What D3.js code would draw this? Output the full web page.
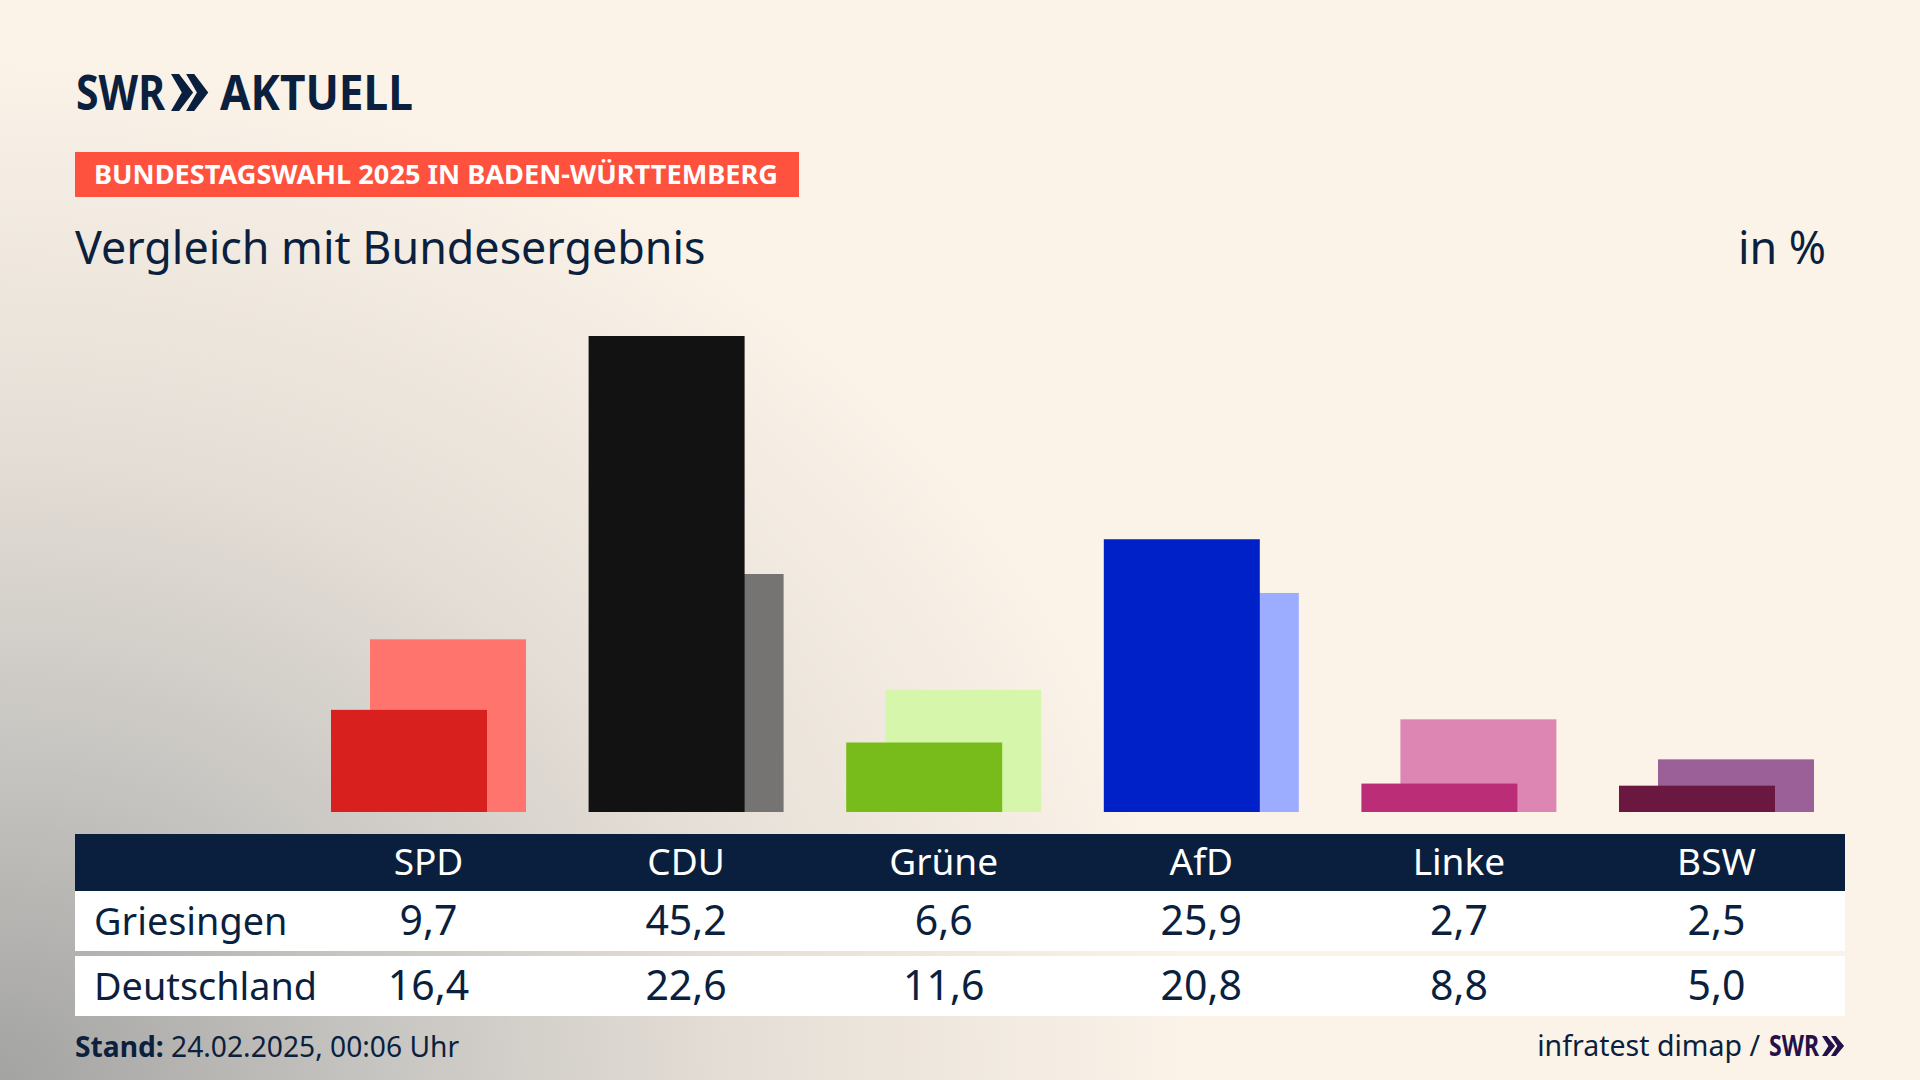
<!DOCTYPE html>
<html>
  <head>
    <meta charset="utf-8">
    <script src="https://d3js.org/d3.v7.min.js"></script>
    <style>
      html, body { margin: 0; padding: 0; background: #fbf3e8; }
      svg { display: block; }
      text { font-family: "Noto Sans", sans-serif; fill: #0b1f3e; }
    </style>
  </head>
  <body>
    <svg id="viz" width="1920" height="1080"></svg>
    <script>
    const parties = ["SPD", "CDU", "Grüne", "AfD", "Linke", "BSW"];
    const griesingen = [9.7, 45.2, 6.6, 25.9, 2.7, 2.5];
    const deutschland = [16.4, 22.6, 11.6, 20.8, 8.8, 5.0];
    const rowNames = ["Griesingen", "Deutschland"];
    const darkColors = ["#d8201f", "#121212", "#78bc1b", "#0021c8", "#bb2e77", "#6b1840"];
    const lightColors = ["#ff756e", "#757473", "#d6f7ab", "#9cadff", "#dd86b4", "#9b6097"];

    const navy = "#0a1f3d";
    const barWidth = 156;
    const base = 812;

    var svg = d3.select("#viz");

    // background, grey glow from the lower left corner
    var defs = svg.append("defs");
    var glow = defs.append("radialGradient")
        .attr("id", "glow")
        .attr("gradientUnits", "userSpaceOnUse")
        .attr("cx", 0).attr("cy", 0).attr("r", 1)
        .attr("gradientTransform", "translate(0,1080) scale(1300,1120)");
    glow.append("stop").attr("offset", 0).attr("stop-color", "#a3a3a2");
    glow.append("stop").attr("offset", 0.3).attr("stop-color", "#c8c6c2");
    glow.append("stop").attr("offset", 0.58).attr("stop-color", "#e6dfd7");
    glow.append("stop").attr("offset", 0.92).attr("stop-color", "#fbf3e8");

    svg.append("rect")
        .attr("width", 1920).attr("height", 1080)
        .attr("fill", "url(#glow)");

    // scales
    var x = d3.scaleBand()
        .domain(parties)
        .range([331, 1814])
        .paddingInner(0.243)
        .paddingOuter(0);

    var y = d3.scaleLinear()
        .domain([0, 45.2])
        .range([base, 336]);

    var color = d3.scaleOrdinal().domain(parties);
    var center = function(p) { return x(p) + x.bandwidth() / 2; };
    var comma = d3.formatLocale({ decimal: ",", thousands: ".", grouping: [3], currency: ["", "€"] }).format(".1f");

    // header
    function chevrons(g, cx, top, h, w, fill) {
        [0, 1].forEach(function(i) {
            var l = cx + i * w * 0.56;
            g.append("path")
                .attr("d", "M" + l + "," + top + "h" + (w * 0.3) + "l" + (w * 0.52) + "," + (h / 2) +
                    "l" + (-w * 0.52) + "," + (h / 2) + "h" + (-w * 0.3) + "l" + (w * 0.4) + "," + (-h / 2) + "z")
                .attr("fill", fill);
        });
    }

    svg.append("text")
        .attr("x", 76).attr("y", 110)
        .attr("font-size", 48).attr("font-weight", 700)
        .attr("textLength", 89).attr("lengthAdjust", "spacingAndGlyphs")
        .text("SWR");
    chevrons(svg, 171, 74, 37, 27, navy);
    svg.append("text")
        .attr("x", 220).attr("y", 110)
        .attr("font-size", 48).attr("font-weight", 700)
        .attr("textLength", 193).attr("lengthAdjust", "spacingAndGlyphs")
        .text("AKTUELL");

    svg.append("rect")
        .attr("x", 75).attr("y", 152)
        .attr("width", 724).attr("height", 45)
        .attr("fill", "#ff523e");
    svg.append("text")
        .attr("x", 94).attr("y", 184)
        .attr("font-size", 27).attr("font-weight", 700)
        .attr("textLength", 684).attr("lengthAdjust", "spacingAndGlyphs")
        .style("fill", "#ffffff")
        .text("BUNDESTAGSWAHL 2025 IN BADEN-WÜRTTEMBERG");

    svg.append("text")
        .attr("x", 75).attr("y", 264)
        .attr("font-size", 44.8)
        .text("Vergleich mit Bundesergebnis");
    svg.append("text")
        .attr("x", 1826).attr("y", 264)
        .attr("text-anchor", "end")
        .attr("font-size", 44.8)
        .text("in %");

    // bars, Deutschland behind and shifted right
    color.range(lightColors);
    svg.append("g").selectAll("rect")
        .data(parties)
        .join("rect")
        .attr("x", function(d) { return x(d) + x.bandwidth() - barWidth; })
        .attr("y", function(d, i) { return y(deutschland[i]); })
        .attr("width", barWidth)
        .attr("height", function(d, i) { return base - y(deutschland[i]); })
        .attr("fill", function(d) { return color(d); });

    color.range(darkColors);
    svg.append("g").selectAll("rect")
        .data(parties)
        .join("rect")
        .attr("x", function(d) { return x(d); })
        .attr("y", function(d, i) { return y(griesingen[i]); })
        .attr("width", barWidth)
        .attr("height", function(d, i) { return base - y(griesingen[i]); })
        .attr("fill", function(d) { return color(d); });

    // table
    svg.append("rect")
        .attr("x", 75).attr("y", 834)
        .attr("width", 1770).attr("height", 57)
        .attr("fill", navy);

    svg.append("g").selectAll("text")
        .data(parties)
        .join("text")
        .attr("x", center)
        .attr("y", 875)
        .attr("text-anchor", "middle")
        .attr("font-size", 37)
        .style("fill", "#ffffff")
        .text(function(d) { return d; });

    var rowTop = [891, 956];
    var rowBase = [935, 1000];
    [griesingen, deutschland].forEach(function(values, r) {
        svg.append("rect")
            .attr("x", 75).attr("y", rowTop[r])
            .attr("width", 1770).attr("height", 60)
            .attr("fill", "#ffffff");
        svg.append("text")
            .attr("x", 94).attr("y", rowBase[r])
            .attr("font-size", 37.8)
            .text(rowNames[r]);
        svg.append("g").selectAll("text")
            .data(values)
            .join("text")
            .attr("x", function(d, i) { return center(parties[i]); })
            .attr("y", rowBase[r])
            .attr("text-anchor", "middle")
            .attr("font-size", 41)
            .text(function(d) { return comma(d); });
    });

    // footer
    var stand = svg.append("text")
        .attr("x", 75).attr("y", 1057)
        .attr("font-size", 28.2);
    stand.append("tspan").attr("font-weight", 700).text("Stand:");
    stand.append("tspan").text(" 24.02.2025, 00:06 Uhr");

    svg.append("text")
        .attr("x", 1760).attr("y", 1056)
        .attr("text-anchor", "end")
        .attr("font-size", 28.5)
        .text("infratest dimap /");
    svg.append("text")
        .attr("x", 1769).attr("y", 1056)
        .attr("font-size", 28).attr("font-weight", 700)
        .attr("textLength", 50).attr("lengthAdjust", "spacingAndGlyphs")
        .style("fill", "#24104a")
        .text("SWR");
    chevrons(svg, 1822, 1036, 20, 16, "#24104a");
    </script>
  </body>
</html>
